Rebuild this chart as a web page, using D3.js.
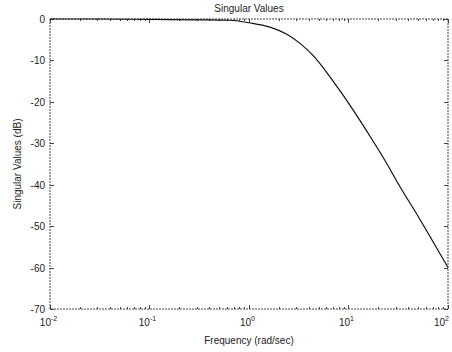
<!DOCTYPE html>
<html>
<head>
<meta charset="utf-8">
<script src="https://d3js.org/d3.v7.min.js"></script>
<style>
  body { margin: 0; background: #fff; }
  svg text { font-family: "Liberation Sans", Arial, sans-serif; fill: #222; }
</style>
</head>
<body>
<svg id="chart" width="452" height="352"></svg>
<script>
// values
const freq = [0.01, 0.03, 0.1, 0.3, 0.64, 1, 1.6, 2.4, 3.3, 4.4, 6, 8.2, 10, 17.7, 22.4, 34.3, 50, 70, 100];
const sv   = [0, 0, -0.1, -0.2, -0.3, -0.9, -1.9, -3.7, -6.0, -8.8, -12.8, -17.3, -20.3, -29.5, -33.5, -41.2, -47.6, -53.6, -60];
const yTicks = [0, -10, -20, -30, -40, -50, -60, -70];
const xTicks = [-2, -1, 0, 1, 2];

const margin = { top: 19, right: 4, bottom: 43, left: 50 };
const width = 452 - margin.left - margin.right;
const height = 352 - margin.top - margin.bottom;

const svg = d3.select("#chart");
const g = svg.append("g").attr("transform", "translate(" + margin.left + "," + margin.top + ")");

const x = d3.scaleLog().domain([0.01, 100]).range([0, width]);
const y = d3.scaleLinear().domain([-70, 0]).range([height, 0]);

const lineCol = "#444";

// box
g.append("rect")
  .attr("width", width).attr("height", height)
  .attr("fill", "none").attr("stroke", lineCol).attr("stroke-width", 1)
  .attr("stroke-dasharray", "2 1");

// y ticks, left and right, pointing inward
g.selectAll(".yt").data(yTicks).join("g").each(function(d) {
  const s = d3.select(this);
  const yy = Math.round(y(d)) + 0.5;
  s.append("line").attr("x1", 0).attr("x2", 4).attr("y1", yy).attr("y2", yy).attr("stroke", lineCol);
  s.append("line").attr("x1", width - 4).attr("x2", width).attr("y1", yy).attr("y2", yy).attr("stroke", lineCol);
  s.append("text").attr("x", -5).attr("y", yy + 3.5)
    .attr("text-anchor", "end").style("font-size", "10px").text(d);
});

// x major + minor ticks, bottom and top
const minor = [];
for (let e = -2; e < 2; e++) for (let m = 2; m < 10; m++) minor.push(m * Math.pow(10, e));
g.selectAll(".xm").data(minor).join("g").each(function(d) {
  const s = d3.select(this);
  const xx = Math.round(x(d)) + 0.5;
  s.append("line").attr("x1", xx).attr("x2", xx).attr("y1", height).attr("y2", height - 2).attr("stroke", lineCol);
  s.append("line").attr("x1", xx).attr("x2", xx).attr("y1", 0).attr("y2", 2).attr("stroke", lineCol);
});
g.selectAll(".xt").data(xTicks).join("g").each(function(e, i) {
  const s = d3.select(this);
  const xx = Math.round(x(Math.pow(10, e))) + 0.5;
  s.append("line").attr("x1", xx).attr("x2", xx).attr("y1", height).attr("y2", height - 4).attr("stroke", lineCol);
  s.append("line").attr("x1", xx).attr("x2", xx).attr("y1", 0).attr("y2", 4).attr("stroke", lineCol);
  const last = i === xTicks.length - 1;
  const t = s.append("text").attr("x", last ? width + 1 : xx - 2).attr("y", height + 17)
    .attr("text-anchor", last ? "end" : "middle").style("font-size", "10px");
  t.append("tspan").text("10");
  t.append("tspan").attr("dy", -5).style("font-size", "7px").text(e);
});

// curve
const line = d3.line()
  .curve(d3.curveMonotoneX)
  .x((d, i) => x(freq[i]))
  .y(d => y(d));
g.append("path").datum(sv)
  .attr("fill", "none").attr("stroke", "#111").attr("stroke-width", 1.2)
  .attr("d", line);

// title and labels
svg.append("text").attr("x", margin.left + width / 2).attr("y", 12)
  .attr("text-anchor", "middle").style("font-size", "10px").text("Singular Values");
svg.append("text").attr("x", 249).attr("y", 344)
  .attr("text-anchor", "middle").style("font-size", "10px").text("Frequency (rad/sec)");
svg.append("text").attr("transform", "translate(21," + (margin.top + height / 2) + ") rotate(-90)")
  .attr("text-anchor", "middle").style("font-size", "10px").text("Singular Values (dB)");
</script>
</body>
</html>
